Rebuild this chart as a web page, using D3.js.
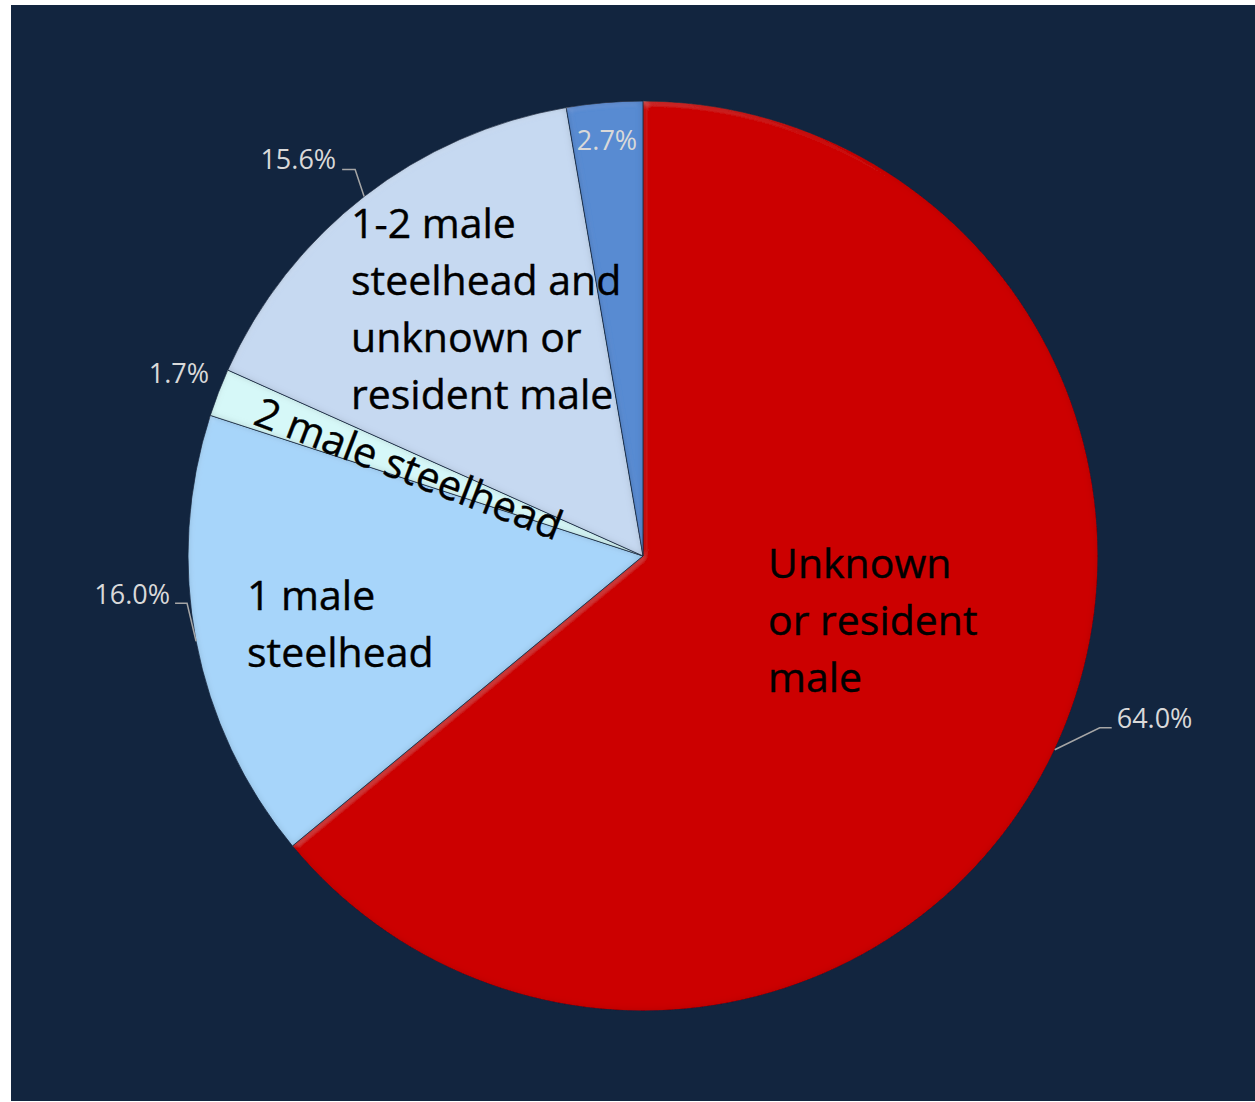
<!DOCTYPE html>
<html>
<head>
<meta charset="utf-8">
<script src="https://cdn.jsdelivr.net/npm/d3@7/dist/d3.min.js"></script>
<style>
  html, body { margin: 0; padding: 0; background: #ffffff; }
  svg { display: block; }
</style>
</head>
<body>
<svg id="chart" width="1255" height="1102"></svg>
<script>
// ---- data ----
const categories = [
  "Unknown or resident male",
  "1 male steelhead",
  "2 male steelhead",
  "1-2 male steelhead and unknown or resident male",
  ""
];
const values = [64.0, 16.0, 1.7, 15.6, 2.7];
const percentLabels = ["64.0%", "16.0%", "1.7%", "15.6%", "2.7%"];
const sliceColors = ["#cc0000", "#a7d5fa", "#d6f8f8", "#c6d9f1", "#588bd2"];

// ---- layout ----
const W = 1255, H = 1102;
const cx = 643, cy = 556, R = 455;
const svg = d3.select("#chart");

svg.append("rect").attr("x", 0).attr("y", 0).attr("width", W).attr("height", H).attr("fill", "#ffffff");
svg.append("rect").attr("x", 11).attr("y", 5).attr("width", W - 11).attr("height", 1096).attr("fill", "#12253f");

// subtle bevel filter: darkened inner edge plus a faint rim highlight
const defs = svg.append("defs");
const f = defs.append("filter").attr("id", "bevel")
  .attr("x", "-5%").attr("y", "-5%").attr("width", "110%").attr("height", "110%");
f.append("feGaussianBlur").attr("in", "SourceAlpha").attr("stdDeviation", 3.5).attr("result", "blur");
f.append("feComposite").attr("in", "SourceAlpha").attr("in2", "blur")
  .attr("operator", "arithmetic").attr("k1", 0).attr("k2", 1).attr("k3", -1).attr("k4", 0).attr("result", "edge");
f.append("feSpecularLighting").attr("in", "blur").attr("surfaceScale", 5)
  .attr("specularConstant", 0.8).attr("specularExponent", 12)
  .attr("lighting-color", "#ffffff").attr("result", "spec")
  .append("feDistantLight").attr("azimuth", 235).attr("elevation", 40);
f.append("feComposite").attr("in", "spec").attr("in2", "edge").attr("operator", "in").attr("result", "specEdge");
f.append("feFlood").attr("flood-color", "#000").attr("flood-opacity", 0.35).attr("result", "dark");
f.append("feComposite").attr("in", "dark").attr("in2", "edge").attr("operator", "in").attr("result", "edgeDark");
f.append("feComposite").attr("in", "SourceGraphic").attr("in2", "specEdge")
  .attr("operator", "arithmetic").attr("k1", 0).attr("k2", 1).attr("k3", 0.35).attr("k4", 0).attr("result", "lit");
f.append("feComposite").attr("in", "lit").attr("in2", "SourceAlpha").attr("operator", "in").attr("result", "litIn");
const m = f.append("feMerge");
m.append("feMergeNode").attr("in", "litIn");
m.append("feMergeNode").attr("in", "edgeDark");

const data = categories.map((c, i) => ({ name: c, value: values[i], label: percentLabels[i], color: sliceColors[i] }));
const pie = d3.pie().sort(null).value(d => d.value).startAngle(0).endAngle(2 * Math.PI);
const arcs = pie(data);
const arc = d3.arc().innerRadius(0).outerRadius(R);

const g = svg.append("g").attr("transform", `translate(${cx},${cy})`);

g.selectAll("path.slice").data(arcs).enter().append("path")
  .attr("class", "slice")
  .attr("d", arc)
  .attr("fill", d => d.data.color)
  .attr("stroke", "#1b2b44")
  .attr("stroke-width", 0.8)
  .attr("filter", "url(#bevel)");

const font = "'Open Sans', 'Noto Sans', sans-serif";

// in-slice category labels (lines), positions relative to pie centre
const catLayout = [
  { lines: ["Unknown", "or resident", "male"], x: 125, y: 22 },
  { lines: ["1 male", "steelhead"], x: -396, y: 54 },
  null,
  { lines: ["1-2 male", "steelhead and", "unknown or", "resident male"], x: -292, y: -318 },
  null
];
const lineH = 57;
catLayout.forEach((L, i) => {
  if (!L) return;
  const t = g.append("text")
    .attr("font-family", font).attr("font-size", 41).attr("fill", "#000")
    .attr("stroke", "#000").attr("stroke-width", 0.4)
    .attr("x", L.x).attr("y", L.y);
  L.lines.forEach((ln, k) => {
    t.append("tspan").attr("x", L.x).attr("y", L.y + k * lineH).text(ln);
  });
});

// rotated label for the thin "2 male steelhead" slice
{
  const d = arcs[2];
  const a = (d.startAngle + d.endAngle) / 2;
  const r = 250;
  const px = r * Math.sin(a), py = -r * Math.cos(a);
  const rot = a * 180 / Math.PI - 270;
  g.append("text")
    .attr("font-family", font).attr("font-size", 41).attr("fill", "#000")
    .attr("stroke", "#000").attr("stroke-width", 0.4)
    .attr("text-anchor", "middle")
    .attr("transform", `translate(${px},${py}) rotate(${rot})`)
    .attr("dy", "0.42em")
    .text(d.data.name);
}

// percent labels with leader lines
const pctLayout = [
  { elbow: [45, -22], tail: 12, anchor: "start", tx: 5, ty: 0, leader: true },
  { elbow: [-9, -38], tail: -12, anchor: "end", tx: -5, ty: 1, leader: true },
  { pos: [-434, -173], anchor: "end", leader: false },
  { elbow: [-9, -27], tail: -13, anchor: "end", tx: -6, ty: 0, leader: true },
  { pos: [-36, -406], anchor: "middle", leader: false }
];
arcs.forEach((d, i) => {
  const P = pctLayout[i];
  const a = (d.startAngle + d.endAngle) / 2;
  let lx, ly;
  if (P.leader) {
    const ex = R * Math.sin(a), ey = -R * Math.cos(a);
    const bx = ex + P.elbow[0], by = ey + P.elbow[1];
    const tx = bx + P.tail;
    g.append("path")
      .attr("d", `M${ex},${ey}L${bx},${by}L${tx},${by}`)
      .attr("fill", "none").attr("stroke", "#a6a6a6").attr("stroke-width", 1.5);
    lx = tx + P.tx; ly = by + P.ty;
  } else {
    lx = P.pos[0]; ly = P.pos[1];
  }
  g.append("text")
    .attr("font-family", font).attr("font-size", 27).attr("fill", "#d9d9d9")
    .attr("text-anchor", P.anchor)
    .attr("x", lx).attr("y", ly)
    .text(d.data.label);
});
</script>
</body>
</html>
